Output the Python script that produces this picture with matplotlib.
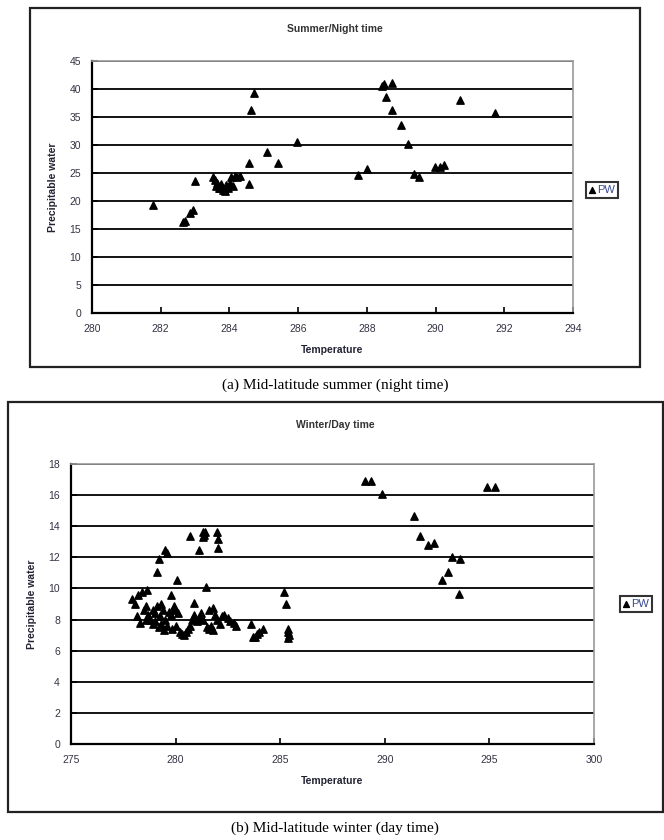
import matplotlib
matplotlib.use("Agg")
import matplotlib.pyplot as plt
from matplotlib.patches import Rectangle

plt.rcParams['font.family'] = ['Liberation Sans', 'DejaVu Sans']

# summer / night time
summer_temp = [281.77, 282.65, 282.7, 282.85, 282.95, 283.0,
               283.53, 283.58, 283.63, 283.6, 283.72, 283.75, 283.82, 283.87, 283.97,
               284.02, 284.05, 284.1, 284.15, 284.22, 284.3, 283.9, 283.7,
               284.57, 284.57, 284.62, 284.71, 285.09, 285.42, 285.97, 287.74, 288.0,
               288.5, 288.45, 288.72, 288.55, 288.72, 289.0, 289.2, 289.36, 289.52,
               289.98, 290.13, 290.25, 290.72, 291.74]
summer_pw = [19.2, 16.3, 16.5, 17.8, 18.4, 23.6,
             24.3, 23.75, 23.2, 22.6, 22.4, 23.0, 22.0, 21.7, 22.3,
             23.3, 24.2, 22.6, 24.4, 24.3, 24.5, 22.9, 22.3,
             26.7, 23.0, 36.2, 39.3, 28.7, 26.7, 30.5, 24.6, 25.8,
             40.9, 40.5, 41.1, 38.6, 36.2, 33.6, 30.2, 24.9, 24.3,
             26.1, 26.1, 26.4, 38.0, 35.7]

# winter / day time
winter_temp = [289.05, 289.35, 289.85, 294.9, 295.25, 291.4, 291.7, 292.05, 292.35,
               293.2, 293.6, 293.0, 292.75, 293.55,
               285.2, 285.3, 285.35, 285.35, 285.4, 285.35,
               280.7, 281.3, 281.35, 281.3, 281.4, 282.0, 282.05, 282.05, 281.1,
               279.5, 279.6, 279.2, 279.1, 280.05, 281.45, 279.8, 278.65, 278.4,
               278.2, 277.9, 278.05, 280.9, 281.8, 278.15, 278.3,
               278.5, 278.6, 278.7, 278.8, 278.9, 279.0, 279.0, 279.1, 279.2, 279.25,
               279.3, 279.4, 279.45, 279.5, 279.6, 279.7, 279.8, 279.85, 279.9, 280.0,
               280.1, 280.2, 280.3, 280.4, 280.5, 280.6, 280.7, 280.8, 280.9, 281.0,
               281.1, 281.2, 281.3, 281.5, 281.6, 281.7, 281.8, 281.6, 281.9, 282.0,
               282.1, 282.2, 282.3, 282.5, 282.6, 282.8, 282.9, 283.6, 283.7, 283.8,
               283.9, 284.0, 284.2, 279.9, 278.6, 278.9, 279.3]
winter_pw = [16.9, 16.9, 16.05, 16.5, 16.55, 14.65, 13.4, 12.8, 12.9,
             12.05, 11.9, 11.05, 10.55, 9.65,
             9.75, 9.0, 7.4, 7.2, 7.0, 6.8,
             13.4, 13.65, 13.45, 13.3, 13.6, 13.65, 13.15, 12.6, 12.45,
             12.5, 12.25, 11.9, 11.05, 10.55, 10.1, 9.6, 9.9, 9.75,
             9.6, 9.3, 9.0, 9.05, 8.75, 8.25, 7.75,
             8.6, 8.9, 8.3, 8.0, 8.6, 7.9, 8.4, 8.9, 7.5, 8.2,
             7.7, 8.6, 7.3, 8.0, 7.6, 8.5, 8.3, 7.4, 8.6, 7.6,
             8.4, 7.2, 7.1, 7.0, 7.2, 7.4, 7.6, 8.0, 8.3, 7.9,
             8.1, 8.4, 8.0, 7.5, 7.4, 7.6, 7.35, 8.6, 8.3, 8.0,
             7.7, 8.2, 8.3, 8.1, 7.9, 7.8, 7.6, 7.7, 6.9, 6.85,
             7.1, 7.2, 7.4, 8.9, 8.0, 7.7, 9.0]

summer_xticks = [280, 282, 284, 286, 288, 290, 292, 294]
summer_yticks = [0, 5, 10, 15, 20, 25, 30, 35, 40, 45]
winter_xticks = [275, 280, 285, 290, 295, 300]
winter_yticks = [0, 2, 4, 6, 8, 10, 12, 14, 16, 18]

W, H = 664, 840
fig = plt.figure(figsize=(W / 100, H / 100), dpi=100)


def px_rect(x0, y0, x1, y1):
    # pixel box -> figure fraction [left, bottom, width, height]
    return [x0 / W, 1 - y1 / H, (x1 - x0) / W, (y1 - y0) / H]


def outer_box(x0, y0, x1, y1):
    l, b, w, h = px_rect(x0, y0, x1, y1)
    fig.patches.append(Rectangle((l, b), w, h, transform=fig.transFigure,
                                 fill=False, edgecolor='#222222', linewidth=1.6))


def excel_panel(rect, temp, pw, xticks, yticks, title, title_xy, leg_xy):
    ax = fig.add_axes(rect)
    ax.scatter(temp, pw, marker='^', s=28, color='black', zorder=3, label='PW')
    ax.set_xlim(xticks[0], xticks[-1])
    ax.set_ylim(yticks[0], yticks[-1])
    ax.set_xticks(xticks)
    ax.set_yticks(yticks)
    ax.yaxis.grid(True, color='black', linewidth=1.3)
    ax.set_axisbelow(True)
    for s in ['top', 'right']:
        ax.spines[s].set_color('#9a9a9a')
        ax.spines[s].set_linewidth(1.2)
    for s in ['left', 'bottom']:
        ax.spines[s].set_color('black')
        ax.spines[s].set_linewidth(1.6)
    ax.tick_params(direction='in', length=4, width=1.2, labelsize=7.5, pad=8,
                   labelcolor='#333344')
    ax.set_xlabel('Temperature', fontsize=7.5, fontweight='bold', labelpad=8,
                  color='#222233')
    ax.set_ylabel('Precipitable water', fontsize=7.5, fontweight='bold', labelpad=8,
                  color='#222233')
    fig.text(title_xy[0] / W, 1 - title_xy[1] / H, title, fontsize=7.5,
             fontweight='bold', ha='center', va='center', color='#333333')
    leg = ax.legend(loc='center left', bbox_to_anchor=(leg_xy[0] / W, 1 - leg_xy[1] / H),
                    bbox_transform=fig.transFigure, fontsize=8, frameon=True,
                    fancybox=False, handlelength=0.6, handletextpad=0.2,
                    borderpad=0.25, markerscale=0.8)
    leg.get_frame().set_edgecolor('black')
    leg.get_frame().set_linewidth(1.5)
    for t in leg.get_texts():
        t.set_color('#3a4a90')
    return ax


# top panel
outer_box(30, 8, 640, 367)
excel_panel(px_rect(92, 61, 573, 313), summer_temp, summer_pw,
            summer_xticks, summer_yticks, 'Summer/Night time', (335, 29), (580, 190))
fig.text(335 / W, 1 - 385 / H, '(a) Mid-latitude summer (night time)',
         fontsize=11, family=['Liberation Serif', 'DejaVu Serif'], ha='center', va='center')

# bottom panel
outer_box(8, 402, 663, 812)
excel_panel(px_rect(71, 464, 594, 744), winter_temp, winter_pw,
            winter_xticks, winter_yticks, 'Winter/Day time', (335, 425), (614, 604))
fig.text(335 / W, 1 - 828 / H, '(b) Mid-latitude winter (day time)',
         fontsize=11, family=['Liberation Serif', 'DejaVu Serif'], ha='center', va='center')

fig.savefig('out.png', dpi=100)
